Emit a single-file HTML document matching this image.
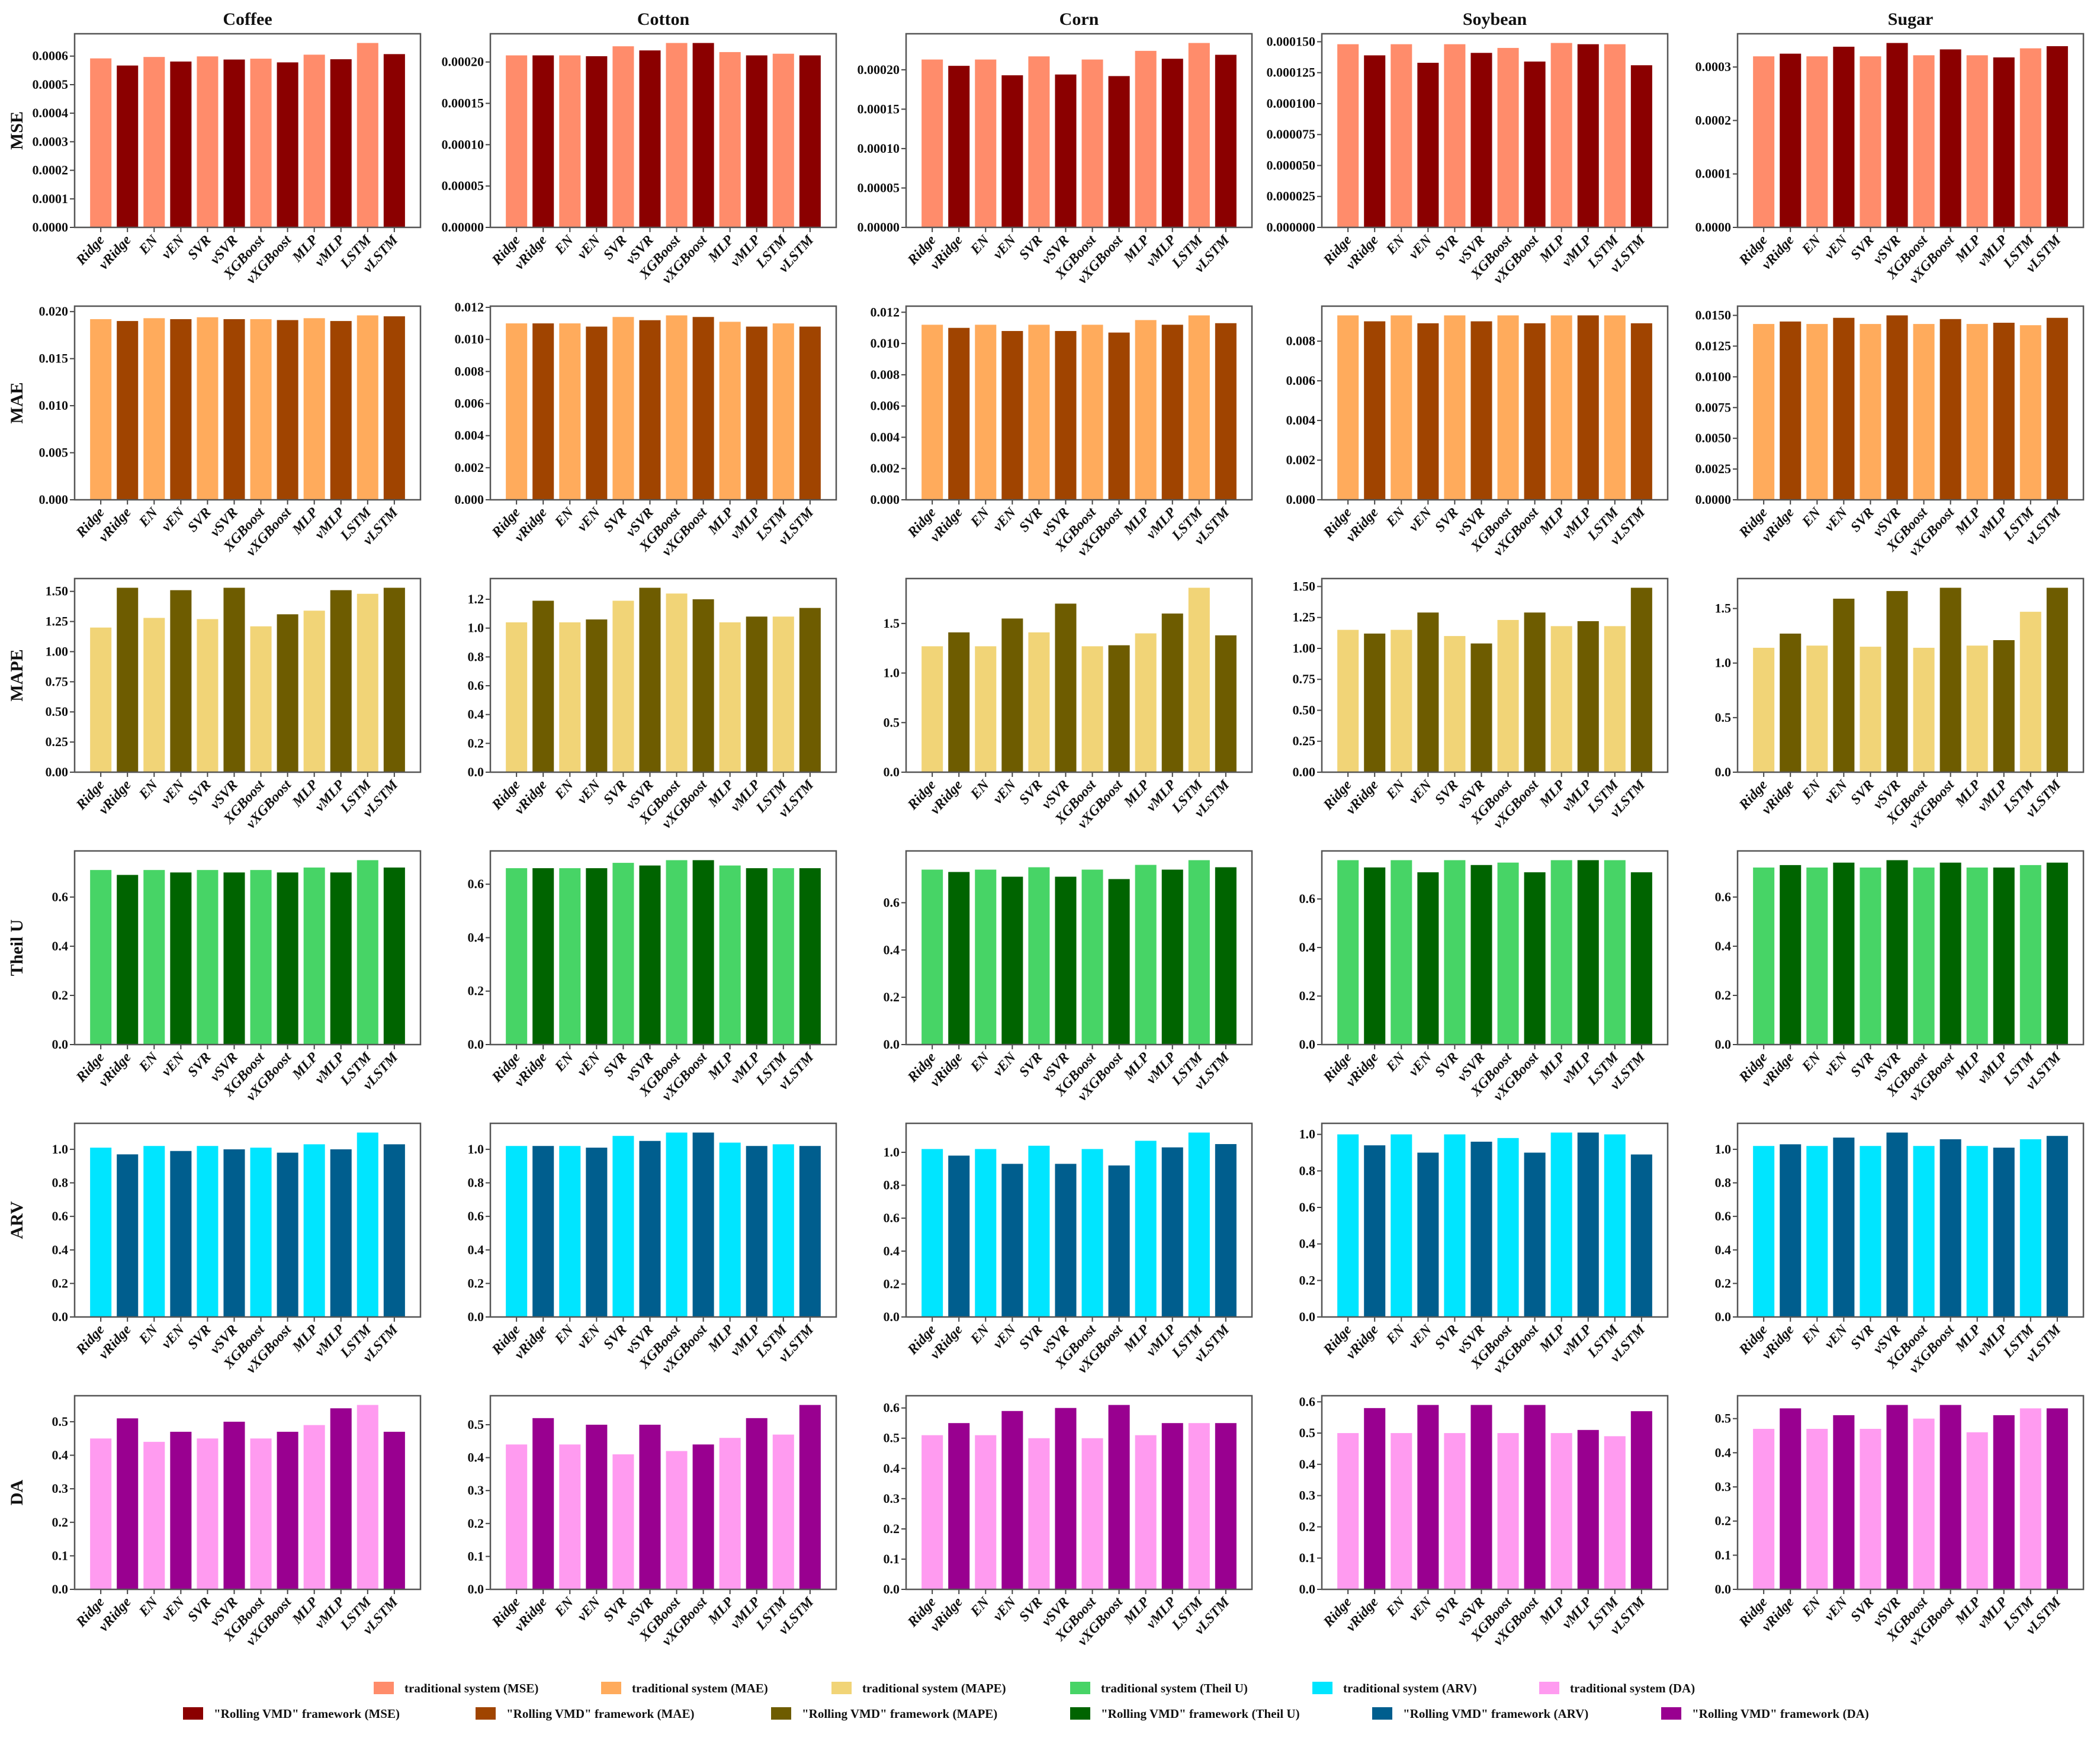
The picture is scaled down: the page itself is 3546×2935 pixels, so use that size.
<!DOCTYPE html>
<html><head><meta charset="utf-8"><style>
html,body{margin:0;padding:0;background:#fff;}
svg{display:block;}
text{font-family:"Liberation Serif",serif;font-weight:bold;fill:#111;}
</style></head><body>
<svg id="fig" width="3546" height="2935" viewBox="0 0 3546 2935" xmlns="http://www.w3.org/2000/svg"></svg>
<script>
const commodities = ["Coffee","Cotton","Corn","Soybean","Sugar"];
const metrics = ["MSE","MAE","MAPE","Theil U","ARV","DA"];
const models = ["Ridge","vRidge","EN","vEN","SVR","vSVR","XGBoost","vXGBoost","MLP","vMLP","LSTM","vLSTM"];
const lightColors = ["#FF8C6B","#FFAB5C","#F1D477","#47D466","#00E5FF","#FF9BF0"];
const darkColors = ["#8B0000","#A04400","#6E5C00","#006400","#005E8E","#990090"];

const mseValues = [
 [0.000592,0.000567,0.000597,0.000581,0.000599,0.000588,0.000591,0.000578,0.000605,0.000589,0.000646,0.000607],
 [0.000208,0.000208,0.000208,0.000207,0.000219,0.000214,0.000223,0.000223,0.000212,0.000208,0.000210,0.000208],
 [0.000213,0.000205,0.000213,0.000193,0.000217,0.000194,0.000213,0.000192,0.000224,0.000214,0.000234,0.000219],
 [0.000148,0.000139,0.000148,0.000133,0.000148,0.000141,0.000145,0.000134,0.000149,0.000148,0.000148,0.000131],
 [0.000320,0.000325,0.000320,0.000338,0.000320,0.000345,0.000322,0.000333,0.000322,0.000318,0.000335,0.000339]];
const maeValues = [
 [0.0192,0.0190,0.0193,0.0192,0.0194,0.0192,0.0192,0.0191,0.0193,0.0190,0.0196,0.0195],
 [0.0110,0.0110,0.0110,0.0108,0.0114,0.0112,0.0115,0.0114,0.0111,0.0108,0.0110,0.0108],
 [0.0112,0.0110,0.0112,0.0108,0.0112,0.0108,0.0112,0.0107,0.0115,0.0112,0.0118,0.0113],
 [0.0093,0.0090,0.0093,0.0089,0.0093,0.0090,0.0093,0.0089,0.0093,0.0093,0.0093,0.0089],
 [0.0143,0.0145,0.0143,0.0148,0.0143,0.0150,0.0143,0.0147,0.0143,0.0144,0.0142,0.0148]];
const mapeValues = [
 [1.20,1.53,1.28,1.51,1.27,1.53,1.21,1.31,1.34,1.51,1.48,1.53],
 [1.04,1.19,1.04,1.06,1.19,1.28,1.24,1.20,1.04,1.08,1.08,1.14],
 [1.27,1.41,1.27,1.55,1.41,1.70,1.27,1.28,1.40,1.60,1.86,1.38],
 [1.15,1.12,1.15,1.29,1.10,1.04,1.23,1.29,1.18,1.22,1.18,1.49],
 [1.14,1.27,1.16,1.59,1.15,1.66,1.14,1.69,1.16,1.21,1.47,1.69]];
const theilValues = [
 [0.71,0.69,0.71,0.70,0.71,0.70,0.71,0.70,0.72,0.70,0.75,0.72],
 [0.66,0.66,0.66,0.66,0.68,0.67,0.69,0.69,0.67,0.66,0.66,0.66],
 [0.74,0.73,0.74,0.71,0.75,0.71,0.74,0.70,0.76,0.74,0.78,0.75],
 [0.76,0.73,0.76,0.71,0.76,0.74,0.75,0.71,0.76,0.76,0.76,0.71],
 [0.72,0.73,0.72,0.74,0.72,0.75,0.72,0.74,0.72,0.72,0.73,0.74]];
const arvValues = [
 [1.01,0.97,1.02,0.99,1.02,1.00,1.01,0.98,1.03,1.00,1.10,1.03],
 [1.02,1.02,1.02,1.01,1.08,1.05,1.10,1.10,1.04,1.02,1.03,1.02],
 [1.02,0.98,1.02,0.93,1.04,0.93,1.02,0.92,1.07,1.03,1.12,1.05],
 [1.00,0.94,1.00,0.90,1.00,0.96,0.98,0.90,1.01,1.01,1.00,0.89],
 [1.02,1.03,1.02,1.07,1.02,1.10,1.02,1.06,1.02,1.01,1.06,1.08]];
const daValues = [
 [0.45,0.51,0.44,0.47,0.45,0.50,0.45,0.47,0.49,0.54,0.55,0.47],
 [0.44,0.52,0.44,0.50,0.41,0.50,0.42,0.44,0.46,0.52,0.47,0.56],
 [0.51,0.55,0.51,0.59,0.50,0.60,0.50,0.61,0.51,0.55,0.55,0.55],
 [0.50,0.58,0.50,0.59,0.50,0.59,0.50,0.59,0.50,0.51,0.49,0.57],
 [0.47,0.53,0.47,0.51,0.47,0.54,0.50,0.54,0.46,0.51,0.53,0.53]];

const mseTicks = [
 ["0.0000","0.0001","0.0002","0.0003","0.0004","0.0005","0.0006"],
 ["0.00000","0.00005","0.00010","0.00015","0.00020"],
 ["0.00000","0.00005","0.00010","0.00015","0.00020"],
 ["0.000000","0.000025","0.000050","0.000075","0.000100","0.000125","0.000150"],
 ["0.0000","0.0001","0.0002","0.0003"]];
const maeTicks = [
 ["0.000","0.005","0.010","0.015","0.020"],
 ["0.000","0.002","0.004","0.006","0.008","0.010","0.012"],
 ["0.000","0.002","0.004","0.006","0.008","0.010","0.012"],
 ["0.000","0.002","0.004","0.006","0.008"],
 ["0.0000","0.0025","0.0050","0.0075","0.0100","0.0125","0.0150"]];
const mapeTicks = [
 ["0.00","0.25","0.50","0.75","1.00","1.25","1.50"],
 ["0.0","0.2","0.4","0.6","0.8","1.0","1.2"],
 ["0.0","0.5","1.0","1.5"],
 ["0.00","0.25","0.50","0.75","1.00","1.25","1.50"],
 ["0.0","0.5","1.0","1.5"]];
const theilTicks = [
 ["0.0","0.2","0.4","0.6"],["0.0","0.2","0.4","0.6"],["0.0","0.2","0.4","0.6"],["0.0","0.2","0.4","0.6"],["0.0","0.2","0.4","0.6"]];
const arvTicks = [
 ["0.0","0.2","0.4","0.6","0.8","1.0"],["0.0","0.2","0.4","0.6","0.8","1.0"],["0.0","0.2","0.4","0.6","0.8","1.0"],["0.0","0.2","0.4","0.6","0.8","1.0"],["0.0","0.2","0.4","0.6","0.8","1.0"]];
const daTicks = [
 ["0.0","0.1","0.2","0.3","0.4","0.5"],["0.0","0.1","0.2","0.3","0.4","0.5"],["0.0","0.1","0.2","0.3","0.4","0.5","0.6"],["0.0","0.1","0.2","0.3","0.4","0.5","0.6"],["0.0","0.1","0.2","0.3","0.4","0.5"]];

const allValues = [mseValues,maeValues,mapeValues,theilValues,arvValues,daValues];
const allTicks = [mseTicks,maeTicks,mapeTicks,theilTicks,arvTicks,daTicks];

const NS = "http://www.w3.org/2000/svg";
const svg = document.getElementById("fig");
function mk(tag, attrs, parent){
  const e = document.createElementNS(NS, tag);
  for (const k in attrs) e.setAttribute(k, attrs[k]);
  (parent||svg).appendChild(e);
  return e;
}
const AX_LEFT0 = 126, COL_PITCH = 702, AX_W = 584;
const AX_TOP0 = 57, ROW_PITCH = 460, AX_H = 327;

for (let r = 0; r < metrics.length; r++){
  for (let c = 0; c < commodities.length; c++){
    const vals = allValues[r][c];
    const ticks = allTicks[r][c];
    const x0 = AX_LEFT0 + c*COL_PITCH, y0 = AX_TOP0 + r*ROW_PITCH;
    const g = mk("g", {});
    
    
    const ymax = Math.max(...vals) * 1.05;
    const xScale = i => x0 + (i + 0.98) / 12.96 * AX_W;
    const yScale = v => y0 + AX_H - v / ymax * AX_H;
    const bw = 0.8 / 12.96 * AX_W;
    vals.forEach((v, i) => {
      const b = mk("rect", {x: xScale(i) - bw/2, y: yScale(v), width: bw, height: y0 + AX_H - yScale(v), fill: i % 2 === 0 ? lightColors[r] : darkColors[r]}, g);
      
      
    });
    ticks.forEach(t => {
      const v = parseFloat(t);
      const y = yScale(v);
      mk("line", {x1: x0-8, x2: x0, y1: y, y2: y, stroke: "#444", "stroke-width": 2}, g);
      const tl = mk("text", {x: x0-11, y: y+7, "text-anchor": "end", "font-size": 22}, g);
      tl.textContent = t;
      
      
    });
    models.forEach((m, i) => {
      const x = xScale(i);
      const yb = y0 + AX_H;
      mk("line", {x1: x, x2: x, y1: yb, y2: yb+8, stroke: "#444", "stroke-width": 2}, g);
      const xl = mk("text", {x: x+7, y: yb+22, "text-anchor": "end", "font-size": 24, "font-style": "italic", transform: "rotate(-48 " + (x+7) + " " + (yb+22) + ")"}, g);
      xl.textContent = m;
      
      
    });
    const fr = mk("rect", {x: x0, y: y0, width: AX_W, height: AX_H, fill: "none", stroke: "#555", "stroke-width": 2.5}, g);
    
    
    if (r === 0){
      const tt = mk("text", {x: x0 + AX_W/2, y: 42, "text-anchor": "middle", "font-size": 30}, g);
      tt.textContent = commodities[c];
      
      
    }
    if (c === 0){
      const yl = mk("text", {x: 38, y: y0 + AX_H/2, "text-anchor": "middle", "font-size": 30, transform: "rotate(-90 38 " + (y0 + AX_H/2) + ")"}, g);
      yl.textContent = metrics[r];
      
      
    }
  }
}
const legRow1X = [631, 1015, 1404, 1807, 2216, 2599];
const legRow2X = [309, 803, 1302, 1807, 2317, 2805];
const legend = mk("g", {});


for (let r = 0; r < metrics.length; r++){
  [[legRow1X[r], 2850, lightColors[r], 'traditional system (' + metrics[r] + ')'],
   [legRow2X[r], 2893, darkColors[r], '"Rolling VMD" framework (' + metrics[r] + ')']].forEach(([x, y, col, label]) => {
    const sw = mk("rect", {x: x, y: y-10, width: 34, height: 21, fill: col}, legend);
    
    
    const lt = mk("text", {x: x+52, y: y+8, "font-size": 21}, legend);
    lt.textContent = label;
    
    
  });
}
</script>
</body></html>
